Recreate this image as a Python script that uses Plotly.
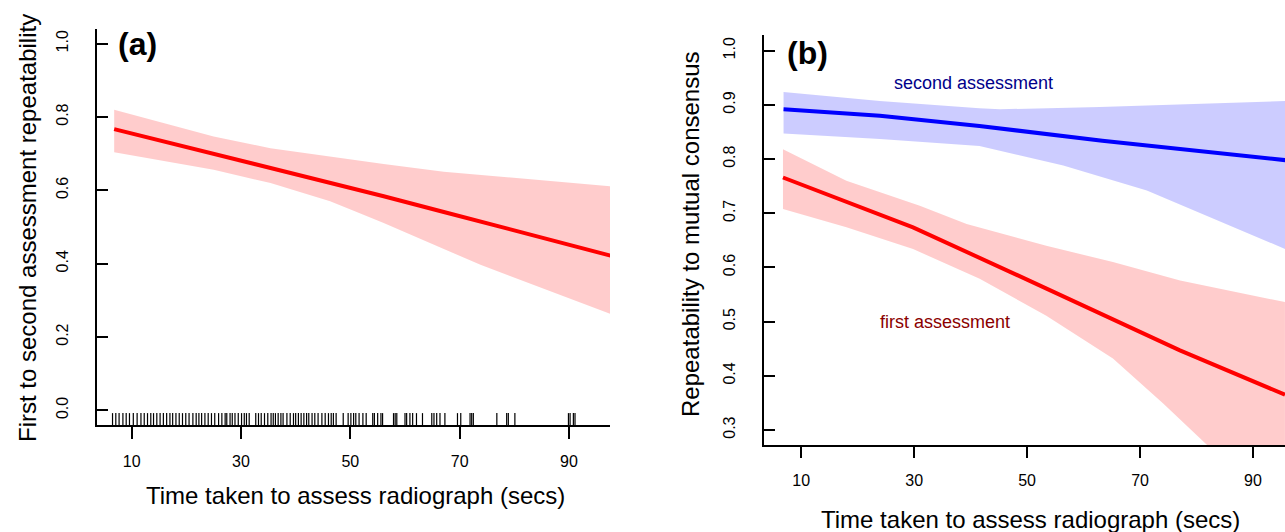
import plotly.graph_objects as go

# ---------------- data ----------------
# Panel (a): first vs second assessment repeatability
a_time = [6.8, 25.0, 35.4, 46.3, 50.6, 56.1, 67.1, 73.8, 97.6]
a_fit = [0.767, 0.700, 0.662, 0.622, 0.606, 0.584, 0.541, 0.515, 0.422]
a_upper = [0.820, 0.747, 0.715, 0.692, 0.683, 0.672, 0.651, 0.642, 0.611]
a_lower = [0.704, 0.656, 0.620, 0.570, 0.544, 0.511, 0.440, 0.397, 0.263]

# rug of observed assessment times (secs)
rug_times = [6.5, 7.1, 7.7, 8.4, 9.0, 9.6, 10.3, 11.0, 11.7, 12.3, 12.9, 13.5, 14.0,
             14.6, 15.2, 15.8, 16.4, 17.0, 17.5, 18.1, 18.7, 19.3, 19.9, 20.5, 21.2,
             21.8, 22.3, 22.8, 23.4, 24.0, 24.6, 25.2, 25.9, 26.5, 27.1, 27.4, 28.0,
             28.4, 28.9, 29.5, 30.1, 30.6, 31.0, 31.5, 32.7, 33.2, 33.7, 34.3, 34.9,
             35.5, 35.9, 36.3, 36.8, 37.3, 37.7, 38.4, 39.0, 39.6, 40.0, 40.5, 41.0,
             41.5, 42.0, 42.4, 43.0, 43.5, 44.1, 44.8, 45.4, 46.0, 46.5, 46.9, 47.4,
             48.7, 49.6, 50.1, 50.6, 51.0, 51.6, 52.3, 52.9, 54.1, 54.4, 55.0, 55.6,
             55.9, 57.9, 58.2, 58.5, 60.0, 60.3, 60.9, 61.4, 62.1, 63.2, 64.9, 65.3,
             65.8, 66.4, 67.3, 69.6, 70.2, 71.9, 72.2, 72.5, 76.8, 78.6, 78.9, 80.1,
             89.9, 90.2, 90.8, 91.1]

# Panel (b): repeatability to mutual consensus
b1_fit_t = [6.77, 29.80, 53.44, 65.24, 77.06, 95.66]
b1_fit = [0.766, 0.674, 0.561, 0.505, 0.447, 0.365]
b1_up_t = [6.77, 18.0, 31.0, 39.3, 53.4, 65.2, 77.1, 95.66]
b1_up = [0.818, 0.760, 0.714, 0.680, 0.640, 0.610, 0.576, 0.536]
b1_lo_t = [6.77, 18.0, 29.8, 41.6, 53.4, 65.2, 74.1, 81.9, 95.66]
b1_lo = [0.708, 0.674, 0.634, 0.579, 0.511, 0.432, 0.349, 0.272, 0.140]

b2_fit_t = [6.87, 23.93, 41.56, 63.32, 95.72]
b2_fit = [0.892, 0.880, 0.861, 0.834, 0.798]
b2_up_t = [6.87, 23.93, 41.56, 45.21, 62.84, 95.72]
b2_up = [0.924, 0.907, 0.894, 0.892, 0.896, 0.907]
b2_lo_t = [6.87, 23.93, 41.56, 45.69, 56.4, 71.2, 81.8, 95.72]
b2_lo = [0.847, 0.837, 0.824, 0.815, 0.788, 0.742, 0.696, 0.634]

x_ticks = [10, 30, 50, 70, 90]
ya_ticks = [0.0, 0.2, 0.4, 0.6, 0.8, 1.0]
yb_ticks = [0.3, 0.4, 0.5, 0.6, 0.7, 0.8, 0.9, 1.0]

# ---------------- figure ----------------
W, H = 1285, 532
FONT = "Liberation Sans, Arial, sans-serif"
RED, PINK = "#FF0000", "rgba(255,0,0,0.2)"
BLUE, LAV = "#0000FF", "rgba(0,0,255,0.2)"

def px_x(p):
    return p / W

def px_y(p):
    return 1 - p / H

fig = go.Figure()

def band(xu, yu, xl, yl, color, xa, ya):
    fig.add_trace(go.Scatter(
        x=list(xu) + list(reversed(xl)), y=list(yu) + list(reversed(yl)),
        fill="toself", fillcolor=color, mode="lines", line=dict(width=0),
        hoverinfo="skip", showlegend=False, xaxis=xa, yaxis=ya))

def line(x, y, color, xa, ya):
    fig.add_trace(go.Scatter(x=x, y=y, mode="lines", line=dict(color=color, width=4),
                             showlegend=False, xaxis=xa, yaxis=ya))

# panel (a)
band(a_time, a_upper, a_time, a_lower, PINK, "x", "y")
line(a_time, a_fit, RED, "x", "y")
rx, ry = [], []
for t in rug_times:
    rx += [t, t, None]
    ry += [-0.04, -0.0076, None]
fig.add_trace(go.Scatter(x=rx, y=ry, mode="lines", line=dict(color="black", width=1.2),
                         showlegend=False, hoverinfo="skip", xaxis="x", yaxis="y"))

# panel (b)
band(b2_up_t, b2_up, b2_lo_t, b2_lo, LAV, "x2", "y2")
band(b1_up_t, b1_up, b1_lo_t, b1_lo, PINK, "x2", "y2")
line(b2_fit_t, b2_fit, BLUE, "x2", "y2")
line(b1_fit_t, b1_fit, RED, "x2", "y2")

axis_common = dict(showgrid=False, zeroline=False, showline=True, linecolor="black",
                   linewidth=2, tickcolor="black", tickwidth=2,
                   tickfont=dict(family=FONT, size=16, color="black"))

fig.update_layout(
    width=W, height=H, margin=dict(l=0, r=0, t=0, b=0),
    paper_bgcolor="white", plot_bgcolor="white",
    font=dict(family=FONT, color="black"),
    xaxis=dict(domain=[px_x(97), px_x(610)], range=[3.66, 97.5], anchor="y",
               tickvals=x_ticks, ticks="outside", ticklen=12, ticklabelstandoff=9,
               **axis_common),
    yaxis=dict(domain=[px_y(425), px_y(29)], range=[-0.04, 1.04], anchor="x",
               tickvals=ya_ticks, ticktext=[f"{v:.1f}" for v in ya_ticks],
               ticks="inside", ticklen=11, tickangle=-90, ticklabelstandoff=21,
               **axis_common),
    xaxis2=dict(domain=[px_x(764), 1.0], range=[3.41, 95.67], anchor="y2",
                tickvals=x_ticks, ticks="outside", ticklen=11, ticklabelstandoff=9,
                **axis_common),
    yaxis2=dict(domain=[px_y(445), px_y(35)], range=[0.2723, 1.029], anchor="x2",
                tickvals=yb_ticks, ticktext=[f"{v:.1f}" for v in yb_ticks],
                ticks="inside", ticklen=11, tickangle=-90, ticklabelstandoff=21,
                **axis_common),
)

def ann(text, x, y, size, color="black", angle=0, bold=False, xanchor="center"):
    fig.add_annotation(text=f"<b>{text}</b>" if bold else text,
                       x=px_x(x), y=px_y(y), xref="paper", yref="paper",
                       xanchor=xanchor, yanchor="middle", textangle=angle,
                       showarrow=False, font=dict(family=FONT, size=size, color=color))

ann("First to second assessment repeatability", 27, 228, 24, angle=-90)
ann("Time taken to assess radiograph (secs)", 355, 495, 24)
ann("Repeatability to mutual consensus", 690, 234, 24, angle=-90)
ann("Time taken to assess radiograph (secs)", 1030, 519, 24)
ann("(a)", 137, 44, 32, bold=True)
ann("(b)", 807, 53, 32, bold=True)
ann("second assessment", 892, 83, 18, color="#00008B", xanchor="left")
ann("first assessment", 878, 322, 18, color="#8B0000", xanchor="left")

fig.write_html("out.html", config={"displayModeBar": False},
               post_script="document.body.style.margin='0px';")
